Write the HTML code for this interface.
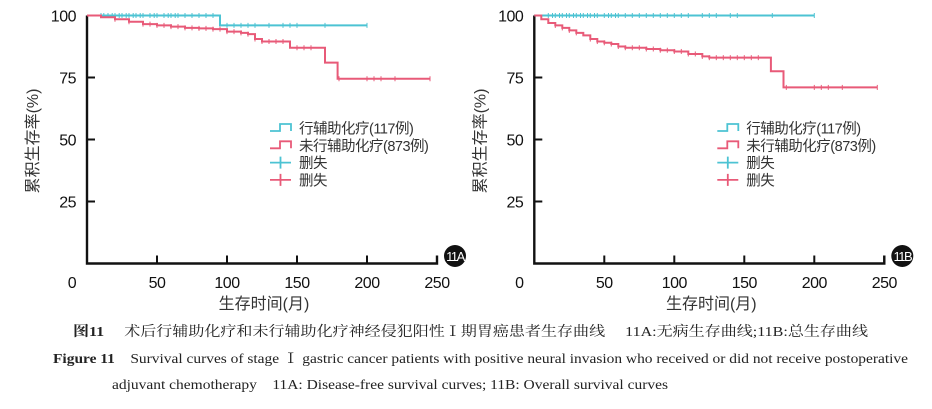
<!DOCTYPE html>
<html><head><meta charset="utf-8"><style>
html,body{margin:0;padding:0;background:#fff;}
svg{display:block;font-family:"Liberation Sans","Noto Sans CJK SC",sans-serif;}
</style></head><body>
<svg id="fig" width="932" height="409" viewBox="0 0 932 409">
<g id="cap" font-family="'Liberation Serif','Noto Serif CJK SC',serif" fill="#222">
<text x="73" y="336" font-size="14" textLength="795" lengthAdjust="spacingAndGlyphs"><tspan font-weight="bold">图11</tspan>　 术后行辅助化疗和未行辅助化疗神经侵犯阳性Ⅰ期胃癌患者生存曲线　 11A:无病生存曲线;11B:总生存曲线</text>
<text x="53" y="363" font-size="14" textLength="855" lengthAdjust="spacingAndGlyphs"><tspan font-weight="bold">Figure 11</tspan>&#160;&#160;&#160;&#160;Survival curves of stage Ⅰ gastric cancer patients with positive neural invasion who received or did not receive postoperative</text>
<text x="112" y="389" font-size="14" textLength="556" lengthAdjust="spacingAndGlyphs">adjuvant chemotherapy&#160;&#160;&#160;&#160;11A: Disease-free survival curves; 11B: Overall survival curves</text>
</g>
</svg>
<script>
// Panel A data (disease-free survival)
const aCyanT=[0,95,200];
const aCyanS=[100,96,96];
const aPinkT=[0,10,20,30,40,50,60,70,80,90,100,110,115,120,125,145,170,179,245];
const aPinkS=[100,99.3,98.5,97.5,96.5,96,95.5,95,94.8,94.5,93.5,93,92.5,90.5,89.5,87,81,74.5,74.5];
const aCyanCens=[10,12,15,18,20,23,25,28,30,33,35,38,40,45,48,50,55,58,60,63,65,70,75,80,85,90,100,105,110,115,120,130,140,145,150,170,200];
const aPinkCens=[20,30,40,45,50,55,60,65,70,75,80,85,90,95,100,105,110,115,120,125,130,135,140,150,155,160,180,200,205,210,220,245];
// Panel B data (overall survival)
const bCyanT=[0,200];
const bCyanS=[100,100];
const bPinkT=[0,5,10,15,20,25,30,35,40,45,50,55,60,65,80,90,100,110,120,125,169,178,245];
const bPinkS=[100,98.5,97,96,95,94,93,92,90.5,89.5,89,88.5,87.5,87,86.5,86,85.5,84.5,83.5,83,77.5,71,71];
const bCyanCens=[10,13,15,18,20,23,25,28,30,33,35,38,40,43,45,50,53,55,58,60,65,70,75,80,85,90,95,100,105,110,120,125,130,140,145,170,200];
const bPinkCens=[15,20,25,30,40,45,50,55,60,65,70,75,80,85,90,95,100,105,110,115,120,125,130,135,140,145,150,155,160,180,200,205,210,220,245];
const xTicks=[0,50,100,150,200,250];
const yTicks=[25,50,75,100];
const CYAN="#4cc3d3",PINK="#e85a78";
const NS="http://www.w3.org/2000/svg";
const svg=document.getElementById('fig');
function mk(tag,attrs,parent){const e=document.createElementNS(NS,tag);for(const k in attrs)e.setAttribute(k,attrs[k]);parent.appendChild(e);return e;}
function stepVal(T,S,t){let v=S[0];for(let i=0;i<T.length;i++){if(T[i]<=t)v=S[i];}return v;}
function panel(x0,label,cT,cS,pT,pS,cC,pC){
  const X=t=>x0+t*1.4, Y=s=>263.5-s*2.48;
  const g=mk('g',{},svg);
  
  
  const ax=mk('path',{d:`M${X(0)} ${Y(100)}V${Y(0)}H${X(250)}V${Y(0)-8}`,stroke:'#111',fill:'none','stroke-width':2.4},g);
  
  
  xTicks.forEach(t=>{
    if(t>0){const tk=mk('line',{x1:X(t),x2:X(t),y1:Y(0),y2:Y(0)-8,stroke:'#111','stroke-width':2},g);
    }
    const tx=mk('text',{x:X(t)-(t===0?15:0),y:288,'text-anchor':'middle','font-size':16,fill:'#111','letter-spacing':'-0.5'},g);
    tx.textContent=t;
    
    
  });
  yTicks.forEach(s=>{
    const tk=mk('line',{x1:X(0),x2:X(0)+8,y1:Y(s),y2:Y(s),stroke:'#111','stroke-width':2},g);
    
    const tx=mk('text',{x:X(0)-11,y:Y(s)+6,'text-anchor':'end','font-size':16,fill:'#111','letter-spacing':'-0.5'},g);
    tx.textContent=s;
    
    
  });
  const yt=mk('text',{transform:`translate(${X(0)-49},141) rotate(-90)`,'text-anchor':'middle','font-size':16,fill:'#333'},g);
  yt.textContent='累积生存率(%)';
  
  
  const xt=mk('text',{x:X(125)+2,y:309,'text-anchor':'middle','font-size':16,fill:'#333'},g);
  xt.textContent='生存时间(月)';
  
  
  const bc=mk('circle',{cx:X(250)+18,cy:256,r:11,fill:'#111'},g);
  
  
  const bt=mk('text',{x:X(250)+18,y:261,'text-anchor':'middle','font-size':13,fill:'#fff','letter-spacing':'-1.5'},g);
  bt.textContent='11'+label;
  
  
  function curve(T,S,C,col,name){
    let d=`M${X(T[0])} ${Y(S[0])}`;
    for(let i=1;i<T.length;i++){d+=`H${X(T[i])}V${Y(S[i])}`;}
    const p=mk('path',{d,stroke:col,fill:'none','stroke-width':2},g);
    
    
    C.forEach(t=>{const v=stepVal(T,S,t);
      const m=mk('path',{d:`M${X(t)} ${Y(v)-2.5}V${Y(v)+2.5}`,stroke:col,'stroke-width':1},g);
      
      });
  }
  curve(cT,cS,cC,CYAN,'adjuvant');
  curve(pT,pS,pC,PINK,'no-adjuvant');
  const lx=X(0)+183, ly=128;
  const lg=mk('g',{},g);
  
  
  const items=[['step',CYAN,'行辅助化疗(117例)'],['step',PINK,'未行辅助化疗(873例)'],['plus',CYAN,'删失'],['plus',PINK,'删失']];
  items.forEach((it,i)=>{
    const y=ly+i*17.3;
    const d=it[0]==='step'?`M${lx} ${y+3}H${lx+10}V${y-4}H${lx+21}V${y+3}`:`M${lx} ${y}H${lx+21}M${lx+10.5} ${y-6}V${y+6}`;
    const s=mk('path',{d,stroke:it[1],fill:'none','stroke-width':1.8},lg);
    
    
    const t=mk('text',{x:lx+29,y:y+5.5,'font-size':14.5,fill:'#333','letter-spacing':'-0.5'},lg);
    t.textContent=it[2];
    
    
  });
}
panel(87,'A',aCyanT,aCyanS,aPinkT,aPinkS,aCyanCens,aPinkCens);
panel(534.3,'B',bCyanT,bCyanS,bPinkT,bPinkS,bCyanCens,bPinkCens);
</script>
</body></html>
